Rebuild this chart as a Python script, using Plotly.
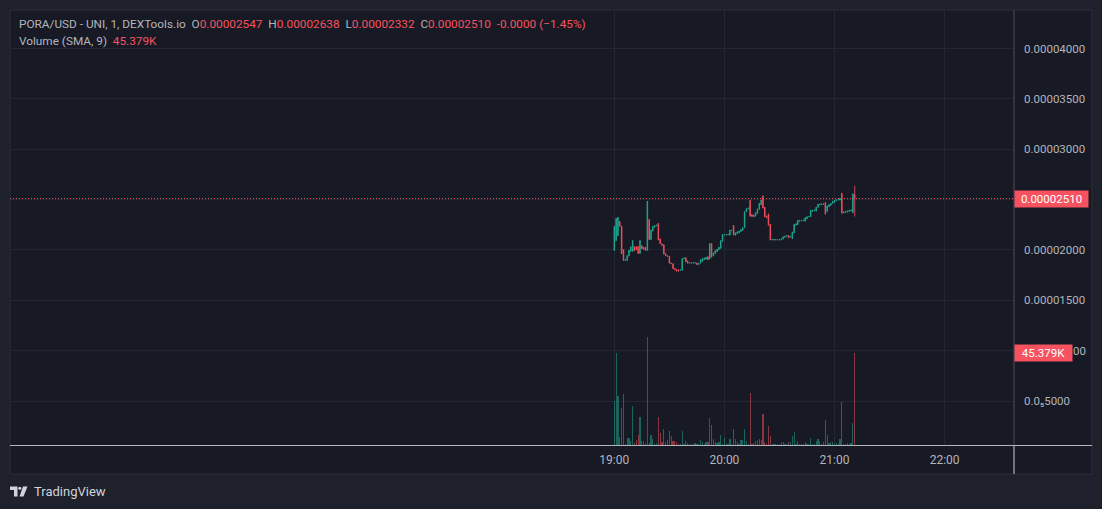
import numpy as np
import pandas as pd
import plotly.graph_objects as go

# ---------------- data (prices in units of 1e-8 USD) ----------------
PRICE_UNIT = 1e-8
START = "2024-05-01 19:00"

open_e8 = [1996, 2093, 2143, 2283, 2236, 2003, 1896, 1896, 1943, 1986,
           1986, 2033, 2033, 2033, 1966, 2043, 2026, 2026, 1996, 2303,
           2103, 2190, 2226, 2240, 2263, 2110, 2060, 2050, 1963, 1943,
           1936, 1870, 1863, 1816, 1803, 1803, 1796, 1800, 1913, 1923,
           1890, 1870, 1870, 1870, 1870, 1870, 1856, 1870, 1886, 1903,
           1910, 1933, 1910, 2063, 1943, 1963, 1983, 2003, 2016, 2086,
           2150, 2150, 2150, 2150, 2193, 2243, 2146, 2163, 2170, 2183,
           2196, 2220, 2380, 2410, 2493, 2353, 2330, 2336, 2363, 2403,
           2450, 2536, 2423, 2336, 2356, 2253, 2100, 2100, 2100, 2100,
           2100, 2100, 2110, 2126, 2136, 2143, 2130, 2113, 2170, 2246,
           2253, 2286, 2290, 2290, 2286, 2310, 2330, 2330, 2383, 2390,
           2386, 2423, 2450, 2450, 2453, 2470, 2383, 2430, 2443, 2463,
           2470, 2490, 2496, 2496, 2563, 2366, 2373, 2376, 2383, 2390,
           2370, 2547]
high_e8 = [2240, 2316, 2326, 2286, 2240, 2006, 1906, 1946, 2000, 2033,
           2096, 2036, 2036, 2036, 2096, 2046, 2030, 2030, 2486, 2306,
           2200, 2236, 2246, 2250, 2266, 2113, 2063, 2053, 1966, 1946,
           1940, 1873, 1866, 1820, 1806, 1806, 1806, 1916, 1923, 1926,
           1893, 1876, 1876, 1876, 1876, 1873, 1870, 1906, 1916, 1923,
           1930, 1936, 2066, 2066, 1973, 1996, 2010, 2030, 2096, 2156,
           2156, 2156, 2156, 2200, 2200, 2246, 2173, 2183, 2190, 2206,
           2223, 2383, 2413, 2420, 2496, 2356, 2350, 2373, 2410, 2466,
           2500, 2540, 2426, 2340, 2360, 2256, 2106, 2106, 2106, 2106,
           2106, 2113, 2133, 2140, 2146, 2146, 2140, 2180, 2256, 2263,
           2296, 2296, 2296, 2300, 2323, 2333, 2336, 2396, 2396, 2400,
           2426, 2456, 2460, 2460, 2460, 2473, 2440, 2453, 2466, 2486,
           2496, 2500, 2503, 2516, 2566, 2380, 2386, 2390, 2396, 2400,
           2560, 2638]
low_e8 = [1993, 2090, 2140, 2233, 1960, 1893, 1893, 1893, 1936, 1983,
          1983, 1990, 2000, 1963, 1963, 2010, 2003, 1993, 1993, 2100,
          2100, 2186, 2223, 2236, 2096, 2060, 2043, 1956, 1940, 1933,
          1866, 1860, 1813, 1800, 1786, 1786, 1793, 1796, 1910, 1880,
          1866, 1866, 1866, 1866, 1866, 1853, 1853, 1866, 1883, 1900,
          1906, 1900, 1906, 1926, 1940, 1960, 1980, 2000, 2013, 2083,
          2146, 2146, 2146, 2146, 2190, 2146, 2143, 2160, 2166, 2180,
          2193, 2216, 2376, 2406, 2330, 2330, 2326, 2333, 2360, 2400,
          2446, 2413, 2326, 2316, 2243, 2096, 2096, 2096, 2096, 2096,
          2096, 2096, 2106, 2123, 2133, 2116, 2126, 2110, 2166, 2243,
          2250, 2283, 2286, 2286, 2283, 2306, 2326, 2326, 2380, 2386,
          2383, 2420, 2446, 2446, 2450, 2353, 2380, 2426, 2440, 2460,
          2466, 2486, 2493, 2493, 2363, 2363, 2370, 2373, 2380, 2386,
          2366, 2332]
close_e8 = [2233, 2313, 2323, 2236, 1963, 1896, 1903, 1943, 1996, 2030,
            2093, 1993, 2003, 1966, 2093, 2013, 2006, 1996, 2483, 2103,
            2196, 2233, 2243, 2246, 2100, 2063, 2046, 1960, 1943, 1936,
            1870, 1863, 1816, 1803, 1790, 1793, 1803, 1913, 1920, 1883,
            1870, 1873, 1873, 1873, 1873, 1856, 1866, 1903, 1913, 1920,
            1926, 1903, 2063, 1930, 1970, 1993, 2006, 2026, 2093, 2153,
            2153, 2153, 2153, 2196, 2196, 2150, 2170, 2180, 2186, 2203,
            2220, 2380, 2410, 2416, 2340, 2333, 2346, 2370, 2406, 2463,
            2496, 2416, 2330, 2320, 2246, 2100, 2103, 2103, 2103, 2103,
            2103, 2110, 2130, 2136, 2143, 2120, 2136, 2176, 2253, 2260,
            2293, 2293, 2293, 2296, 2320, 2330, 2333, 2393, 2393, 2396,
            2423, 2453, 2456, 2456, 2458, 2356, 2436, 2450, 2463, 2483,
            2493, 2496, 2500, 2513, 2366, 2376, 2383, 2386, 2393, 2396,
            2556, 2510]
volume = [21900, 45400, 24300, 3800, 18400, 25100, 500, 3300, 3300, 1800,
          19400, 800, 2300, 4700, 14000, 1800, 1800, 800, 53200, 800,
          4700, 2800, 700, 800, 14000, 5700, 1300, 7700, 1300, 2300,
          6700, 4200, 1800, 1800, 1300, 300, 500, 6700, 400, 1800,
          800, 300, 300, 400, 800, 400, 300, 2300, 1300, 600,
          1300, 1300, 13500, 10100, 2800, 1300, 1000, 1300, 4700, 400,
          3300, 300, 300, 2800, 400, 7700, 2800, 1300, 400, 2300,
          2300, 7700, 1800, 400, 25800, 300, 800, 1800, 2300, 2800,
          2300, 15500, 1300, 500, 9600, 4200, 300, 300, 300, 300,
          300, 1300, 1300, 300, 400, 1300, 1300, 4200, 6200, 300,
          1800, 300, 300, 400, 1300, 300, 300, 3300, 300, 400,
          1800, 2800, 1800, 400, 1300, 12100, 4700, 800, 1300, 1300,
          300, 800, 400, 2800, 21400, 300, 400, 800, 400, 800,
          11100, 45379]
price_ticks = [0.000005, 0.00001, 0.000015, 0.00002, 0.000025, 0.00003,
               0.000035, 0.00004]
# labels hidden behind the last-value boxes are left empty here
price_tick_text = ["0.0\u20855000", "", "0.00001500", "0.00002000",
                   "", "0.00003000", "0.00003500", "0.00004000"]
hidden_tick_tail = "00"   # visible tail of "0.00001000" beside the volume box
time_ticks = ["2024-05-01 19:00", "2024-05-01 20:00", "2024-05-01 21:00",
              "2024-05-01 22:00"]
time_tick_text = ["19:00", "20:00", "21:00", "22:00"]

# ---------------- derived ----------------
o = np.array(open_e8) * PRICE_UNIT
h = np.array(high_e8) * PRICE_UNIT
l = np.array(low_e8) * PRICE_UNIT
c = np.array(close_e8) * PRICE_UNIT
t = pd.date_range(START, periods=len(o), freq="1min")

UP = "#22ab94"
DN = "#f7525f"
UPV = "rgba(34,171,148,0.5)"
DNV = "rgba(247,82,95,0.5)"
vol_colors = [UPV if cc >= oo else DNV for oo, cc in zip(o, c)]

BG_OUT = "#1e212b"
BG = "#171a24"
GRID = "#242733"
TXT = "#b2b5be"

W, H = 1102, 509
ML, MR, MT, MB = 10, 88, 10, 64
PW, PH = W - ML - MR, H - MT - MB


def px(x):
    return (x - ML) / PW


def py(y):
    return (H - MB - y) / PH


fig = go.Figure()
fig.add_trace(go.Bar(
    x=t, y=volume, marker=dict(color=vol_colors, line=dict(width=0)),
    width=40000, yaxis="y2", hoverinfo="skip"))
fig.add_trace(go.Candlestick(
    x=t, open=o, high=h, low=l, close=c,
    increasing=dict(line=dict(color=UP, width=0.8), fillcolor=UP),
    decreasing=dict(line=dict(color=DN, width=0.8), fillcolor=DN),
    whiskerwidth=0, hoverinfo="skip"))

last_o, last_h, last_l, last_c = o[-1], h[-1], l[-1], c[-1]
chg = last_c - last_o
pct = chg / last_o * 100
vol_last = volume[-1]
vol_txt = f"{vol_last/1000:.3f}K"

sp = "&nbsp;"
head1 = (f"<span style='color:{TXT}'>PORA/USD - UNI, 1, DEXTools.io{sp}{sp}O</span>"
         f"<span style='color:{DN}'>{last_o:.8f}</span>"
         f"<span style='color:{TXT}'>{sp}{sp}H</span><span style='color:{DN}'>{last_h:.8f}</span>"
         f"<span style='color:{TXT}'>{sp}{sp}L</span><span style='color:{DN}'>{last_l:.8f}</span>"
         f"<span style='color:{TXT}'>{sp}{sp}C</span><span style='color:{DN}'>{last_c:.8f}</span>"
         f"<span style='color:{DN}'>{sp}{sp}{chg:.4f} (\u2212{abs(pct):.2f}%)</span>")
head2 = (f"<span style='color:{TXT}'>Volume (SMA, 9){sp}{sp}</span>"
         f"<span style='color:{DN}'>{vol_txt}</span>")

shapes = [
    dict(type="rect", xref="paper", yref="paper", x0=px(10), x1=px(1092),
         y0=py(474), y1=py(10), fillcolor=BG, line=dict(color="#2a2e39", width=1),
         layer="below"),
    dict(type="line", xref="paper", yref="y", x0=0, x1=1, y0=last_c, y1=last_c,
         line=dict(color=DN, width=1, dash="1px,2px"), layer="above"),
    dict(type="line", xref="paper", yref="paper", x0=px(1014), x1=px(1014),
         y0=py(474), y1=py(10), line=dict(color="#4a4d58", width=1), layer="above"),
    dict(type="line", xref="paper", yref="paper", x0=px(1014), x1=px(1014),
         y0=py(474), y1=py(445.5), line=dict(color="#b2b5be", width=1), layer="above"),
    dict(type="line", xref="paper", yref="paper", x0=px(10), x1=px(1092),
         y0=py(445.5), y1=py(445.5), line=dict(color="#b2b5be", width=1), layer="above"),
    # TradingView logo
    dict(type="path", xref="paper", yref="paper",
         path=(f"M {px(10)} {py(486.5)} L {px(17.5)} {py(486.5)} L {px(17.5)} {py(496.5)} "
               f"L {px(14)} {py(496.5)} L {px(14)} {py(490)} L {px(10)} {py(490)} Z"),
         fillcolor="#d1d4dc", line=dict(width=0)),
    dict(type="circle", xref="paper", yref="paper", x0=px(18.3), x1=px(21.3),
         y0=py(489.7), y1=py(486.7), fillcolor="#d1d4dc", line=dict(width=0)),
    dict(type="path", xref="paper", yref="paper",
         path=(f"M {px(23)} {py(486.5)} L {px(27.5)} {py(486.5)} L {px(23.5)} {py(496.5)} "
               f"L {px(19.5)} {py(496.5)} Z"),
         fillcolor="#d1d4dc", line=dict(width=0)),
]

annotations = [
    dict(xref="paper", yref="paper", x=px(17), y=py(24), xanchor="left",
         yanchor="middle", text=head1, showarrow=False,
         font=dict(size=11.8, color=TXT, family="Roboto")),
    dict(xref="paper", yref="paper", x=px(17), y=py(41), xanchor="left",
         yanchor="middle", text=head2, showarrow=False,
         font=dict(size=11.8, color=TXT, family="Roboto")),
    dict(xref="paper", yref="y", x=px(1014), y=last_c, xanchor="left",
         yanchor="middle", text=f"{last_c:.8f}", showarrow=False,
         bgcolor=DN, width=71, height=14, borderpad=1, align="center",
         font=dict(size=11.5, color="#ffffff", family="Roboto")),
    dict(xref="paper", yref="y", x=px(1071), y=price_ticks[1], xanchor="left",
         yanchor="middle", text=hidden_tick_tail, showarrow=False,
         font=dict(size=11.5, color=TXT, family="Roboto")),
    dict(xref="paper", yref="y2", x=px(1014), y=vol_last, xanchor="left",
         yanchor="middle", text=vol_txt, showarrow=False,
         bgcolor=DN, width=55, height=14, borderpad=1, align="center",
         font=dict(size=11.5, color="#ffffff", family="Roboto")),
    dict(xref="paper", yref="paper", x=px(32), y=py(491.5), xanchor="left",
         yanchor="middle", text="TradingView", showarrow=False,
         font=dict(size=13, color="#d1d4dc", family="Roboto")),
]

x_lo = pd.Timestamp("2024-05-01 13:30:42")
x_hi = pd.Timestamp("2024-05-01 22:37:48")

fig.update_layout(
    width=W, height=H, margin=dict(l=ML, r=MR, t=MT, b=MB, pad=0),
    paper_bgcolor=BG_OUT, plot_bgcolor=BG, showlegend=False,
    font=dict(family="Roboto", color=TXT),
    shapes=shapes, annotations=annotations, bargap=0, boxgap=0.55,
    xaxis=dict(type="date", range=[x_lo, x_hi], tickvals=time_ticks,
               ticktext=time_tick_text, showgrid=True, gridcolor=GRID,
               gridwidth=1, zeroline=False, showline=False, ticks="",
               tickfont=dict(size=12, color=TXT), ticklabelstandoff=6,
               rangeslider=dict(visible=False), fixedrange=True),
    yaxis=dict(side="right", range=[6.35e-7, 4.3825e-5], tickvals=price_ticks,
               ticktext=price_tick_text, showgrid=True, gridcolor=GRID,
               gridwidth=1, zeroline=False, showline=False, ticks="",
               tickfont=dict(size=11.5, color=TXT), ticklabelstandoff=9,
               fixedrange=True),
    yaxis2=dict(overlaying="y", range=[0, 214562], visible=False,
                fixedrange=True),
)

fig.write_html("out.html", config={"displayModeBar": False, "staticPlot": True},
               post_script="document.body.style.margin='0';")
